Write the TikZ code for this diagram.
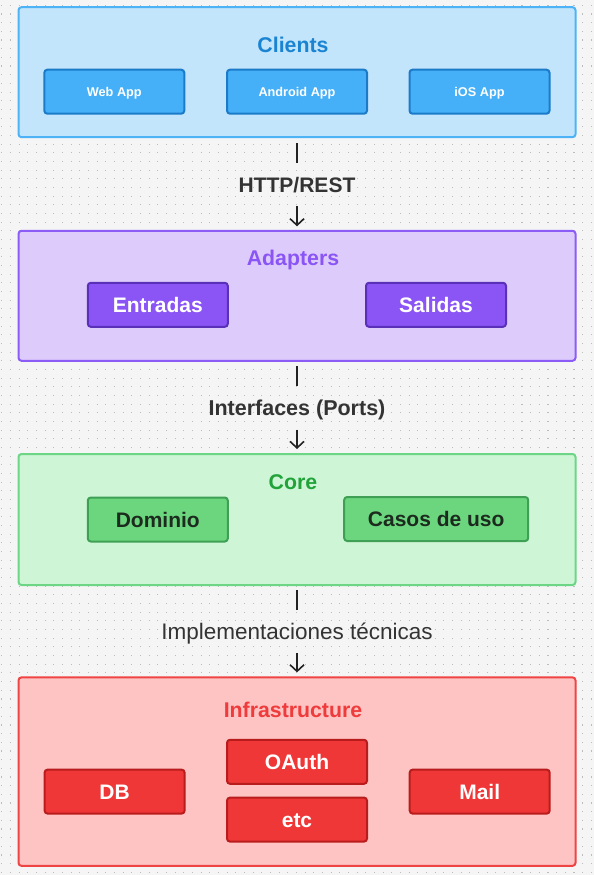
\documentclass[tikz,border=0pt]{standalone}
\usepackage{fontspec}
\setmainfont{Liberation Sans}
\usetikzlibrary{arrows.meta}
\definecolor{bgc}{HTML}{F5F5F5}
\definecolor{dotc}{HTML}{BDBDBD}
\definecolor{cliF}{HTML}{C2E5FB}
\definecolor{cliB}{HTML}{4DB3F6}
\definecolor{cliT}{HTML}{1B84D2}
\definecolor{cliSF}{HTML}{45B0F8}
\definecolor{cliSB}{HTML}{1C7BC9}
\definecolor{adaF}{HTML}{DDCCFB}
\definecolor{adaB}{HTML}{8B5CF6}
\definecolor{adaT}{HTML}{8B55F6}
\definecolor{adaSF}{HTML}{8B55F6}
\definecolor{adaSB}{HTML}{5B30B8}
\definecolor{corF}{HTML}{CDF5D6}
\definecolor{corB}{HTML}{6DD686}
\definecolor{corT}{HTML}{22A33A}
\definecolor{corSF}{HTML}{6CD67F}
\definecolor{corSB}{HTML}{3FA055}
\definecolor{corST}{HTML}{1C2B1E}
\definecolor{infF}{HTML}{FEC4C4}
\definecolor{infB}{HTML}{EF4444}
\definecolor{infT}{HTML}{EF3B3B}
\definecolor{infSF}{HTML}{EF3737}
\definecolor{infSB}{HTML}{B91C1C}
\definecolor{labc}{HTML}{333333}
\definecolor{arrc}{HTML}{222222}
\tikzset{
  container/.style={draw, line width=2pt, rounded corners=3pt, minimum width=557pt, inner sep=0pt},
  title/.style={font=\fontsize{21.3}{25}\selectfont\bfseries, inner sep=0pt, text height=15.25pt, text depth=0pt},
  subbox/.style={draw, line width=2pt, rounded corners=3pt, inner sep=0pt, minimum height=44pt, font=\fontsize{21}{25}\selectfont\bfseries, text height=15pt, text depth=0pt},
  smallsub/.style={subbox, font=\fontsize{12.7}{15}\selectfont\bfseries, text height=9.1pt},
  arrlabel/.style={text=labc, inner xsep=2pt, inner ysep=14pt, text height=15pt, text depth=0pt},
  conn/.style={draw=arrc, line width=1.6pt},
  connarrow/.style={conn, -{Straight Barb[length=6.5pt, width=14pt, line width=1.6pt]}},
  dotrow/.style={draw=dotc, line width=1.1pt, dash pattern=on 1.1pt off 7.57pt}
}
\begin{document}
\begin{tikzpicture}[x=1pt, y=-1pt]
\useasboundingbox (0,0) rectangle (594,875);
\fill[bgc] (0,0) rectangle (594,875);
\foreach \j in {0,...,100} { \draw[dotrow] (1.2,{5.35+\j*8.67}) -- (594,{5.35+\j*8.67}); }

% Clients
\node[container, fill=cliF, draw=cliB, minimum height=130pt] (clients) at (297,72.2) {};
\node[title, text=cliT] (clientsT) at (293,45.3) {Clients};
\node[smallsub, fill=cliSF, draw=cliSB, text=white, minimum width=140pt] (web) at (114.3,91.7) {Web App};
\node[smallsub, fill=cliSF, draw=cliSB, text=white, minimum width=140pt] (android) at (297,91.7) {Android App};
\node[smallsub, fill=cliSF, draw=cliSB, text=white, minimum width=140pt] (ios) at (479.5,91.7) {iOS App};

% arrow labels
\node[arrlabel, font=\fontsize{21}{25}\selectfont\bfseries] (http) at (297,184.5) {HTTP/REST};
\node[arrlabel, font=\fontsize{21.5}{25}\selectfont\bfseries] (ports) at (297,408) {Interfaces (Ports)};
\node[arrlabel, font=\fontsize{22.5}{26}\selectfont] (impl) at (297,631.7) {Implementaciones técnicas};

% Adapters
\node[container, fill=adaF, draw=adaB, minimum height=130pt] (adapters) at (297,295.8) {};
\node[title, text=adaT] (adaptersT) at (293,258) {Adapters};
\node[subbox, fill=adaSF, draw=adaSB, text=white, minimum width=140pt] (entradas) at (157.8,304.8) {Entradas};
\node[subbox, fill=adaSF, draw=adaSB, text=white, minimum width=140pt] (salidas) at (436,304.8) {Salidas};

% Core
\node[container, fill=corF, draw=corB, minimum height=131pt] (core) at (297,519.5) {};
\node[title, text=corT] (coreT) at (293,482) {Core};
\node[subbox, fill=corSF, draw=corSB, text=corST, minimum width=140pt] (dominio) at (157.8,519.5) {Dominio};
\node[subbox, fill=corSF, draw=corSB, text=corST, minimum width=184pt] (casos) at (436.2,519) {Casos de uso};

% Infrastructure
\node[container, fill=infF, draw=infB, minimum height=188.5pt] (infra) at (297,771.6) {};
\node[title, text=infT] (infraT) at (293,710.3) {Infrastructure};
\node[subbox, fill=infSF, draw=infSB, text=white, minimum width=140pt] (db) at (114.6,791.6) {DB};
\node[subbox, fill=infSF, draw=infSB, text=white, minimum width=140pt] (oauth) at (297,761.8) {OAuth};
\node[subbox, fill=infSF, draw=infSB, text=white, minimum width=140pt] (etc) at (297,819.6) {etc};
\node[subbox, fill=infSF, draw=infSB, text=white, minimum width=140pt] (mail) at (479.7,791.6) {Mail};

% connectors
\draw[conn, shorten <=5pt] (clients.south) -- (http.north);
\draw[connarrow, shorten >=3.5pt] (http.south) -- (adapters.north);
\draw[conn, shorten <=4pt] (adapters.south) -- (ports.north);
\draw[connarrow, shorten >=4pt] (ports.south) -- (core.north);
\draw[conn, shorten <=4pt] (core.south) -- (impl.north);
\draw[connarrow, shorten >=4pt] (impl.south) -- (infra.north);
\end{tikzpicture}
\end{document}
